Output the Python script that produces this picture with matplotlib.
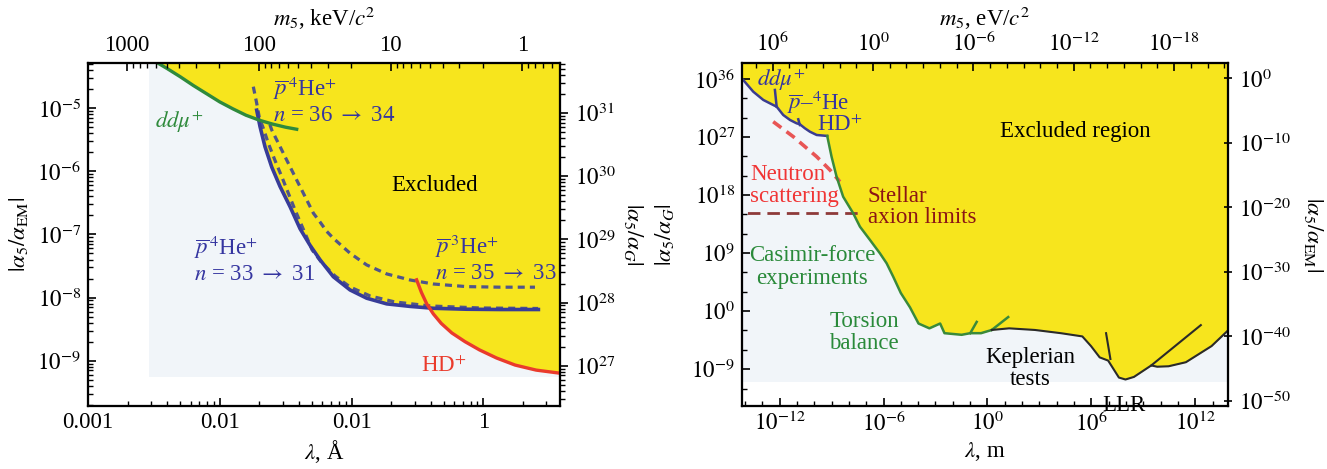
import numpy as np
import matplotlib
matplotlib.use("Agg")
import matplotlib.pyplot as plt
from matplotlib.ticker import FixedLocator, FixedFormatter, NullFormatter, LogLocator

plt.rcParams['font.family'] = ['Liberation Serif', 'DejaVu Serif']
plt.rcParams['mathtext.fontset'] = 'stix'

# ---------------- Left panel data: lambda [Angstrom], |alpha5/alphaEM| ----------------
ddmu_lambda_A = [3.24e-3, 3.98e-3, 5.01e-3, 6.31e-3, 7.94e-3, 1.00e-2, 1.26e-2, 1.58e-2,
                 2.00e-2, 2.51e-2, 3.16e-2, 3.83e-2]
ddmu_alpha = [5.50e-5, 4.27e-5, 3.16e-5, 2.29e-5, 1.70e-5, 1.26e-5, 9.77e-6, 7.76e-6,
              6.46e-6, 5.62e-6, 5.01e-6, 4.65e-6]

pHe4_33_lambda_A = [0.01905, 0.02018, 0.02203, 0.02477, 0.02864, 0.03412, 0.04064, 0.04831,
                    0.05754, 0.07261, 0.09727, 0.1300, 0.1845, 0.2773, 0.4169, 0.7464, 1.337, 2.612]
pHe4_33_alpha = [9.33e-6, 5.13e-6, 2.45e-6, 1.17e-6, 5.75e-7, 2.75e-7, 1.23e-7, 6.76e-8,
                 3.98e-8, 2.14e-8, 1.32e-8, 9.77e-9, 7.94e-9, 7.24e-9, 6.76e-9, 6.53e-9, 6.46e-9, 6.46e-9]

pHe4_36_lambda_A = [0.01795, 0.01905, 0.01995, 0.02138, 0.02333, 0.02612, 0.02951, 0.03311,
                    0.03724, 0.04436, 0.05012, 0.05957, 0.07482, 0.09727, 0.1380, 0.2133,
                    0.3936, 0.9419, 2.600]
pHe4_36_alpha = [2.20e-5, 1.20e-5, 7.08e-6, 4.82e-6, 2.79e-6, 1.52e-6, 8.24e-7, 4.50e-7,
                 2.44e-7, 1.04e-7, 5.69e-8, 3.54e-8, 2.20e-8, 1.47e-8, 1.06e-8, 8.51e-9,
                 7.36e-9, 6.84e-9, 6.71e-9]

pHe3_35_lambda_A = [0.02399, 0.02477, 0.02864, 0.03311, 0.03828, 0.04436, 0.05129, 0.05754,
                    0.06471, 0.07261, 0.09727, 0.1300, 0.1845, 0.2773, 0.4169, 0.7464, 1.337, 2.460]
pHe3_35_alpha = [5.50e-6, 4.53e-6, 2.47e-6, 1.34e-6, 7.31e-7, 3.97e-7, 2.17e-7, 1.58e-7,
                 1.12e-7, 8.71e-8, 5.04e-8, 3.29e-8, 2.37e-8, 1.90e-8, 1.64e-8, 1.49e-8, 1.46e-8, 1.46e-8]

HD_lambda_A = [0.3112, 0.3388, 0.3715, 0.4169, 0.4786, 0.5754, 0.7244, 0.9333, 1.259, 1.738, 2.512, 3.837]
HD_alpha = [1.91e-8, 1.20e-8, 7.94e-9, 5.50e-9, 3.89e-9, 2.75e-9, 2.00e-9, 1.48e-9, 1.10e-9,
            8.51e-10, 7.08e-10, 6.31e-10]

left_light_lambda_min = 2.90e-3
left_light_alpha_min = 5.45e-10

left_bottom_ticks = [1e-3, 1e-2, 1e-1, 1e0]
left_bottom_labels = ['0.001', '0.01', '0.01', '1']
left_top_ticks = [1000, 100, 10, 1]
left_top_labels = ['1000', '100', '10', '1']
left_left_ticks = [1e-9, 1e-8, 1e-7, 1e-6, 1e-5]
left_left_labels = [r'$10^{-9}$', r'$10^{-8}$', r'$10^{-7}$', r'$10^{-6}$', r'$10^{-5}$']
left_right_ticks = [1e27, 1e28, 1e29, 1e30, 1e31]
left_right_labels = [r'$10^{27}$', r'$10^{28}$', r'$10^{29}$', r'$10^{30}$', r'$10^{31}$']

# ---------------- Right panel data: lambda [m], |alpha5/alphaG| ----------------
bound_blue_lambda = [6.31e-15, 3.02e-14, 1.15e-13, 4.27e-13, 6.76e-13, 1.62e-12, 3.98e-12,
                     9.55e-12, 1.48e-11, 2.88e-11, 5.62e-11, 1.38e-10, 5.62e-10]
bound_blue_alpha = [1.41e36, 1.05e34, 5.50e32, 9.12e31, 5.01e31, 2.57e30, 4.37e29,
                    1.32e29, 9.33e28, 2.24e28, 6.61e27, 2.04e27, 1.45e27]
bound_green_lambda = [5.62e-10, 1.00e-9, 1.95e-9, 4.68e-9, 1.78e-8, 4.37e-8, 1.66e-7, 6.17e-7,
                      1.51e-6, 3.63e-6, 1.00e-5, 3.39e-5, 1.05e-4, 4.47e-4, 1.86e-3, 3.31e-3,
                      3.24e-2, 0.102, 0.427, 1.78]
bound_green_alpha = [1.45e27, 8.91e23, 6.92e20, 5.50e17, 1.48e15, 1.23e13, 1.07e11, 9.33e8,
                     2.63e7, 2.19e5, 6.31e2, 3.80, 1.20e-2, 2.14e-3, 1.20e-2, 3.80e-4,
                     2.14e-4, 3.80e-4, 3.80e-4, 1.20e-3]
bound_black_lambda = [1.78, 17.8, 550, 1.74e4, 3.02e5, 9.55e5, 3.02e6, 9.33e6, 3.89e7, 9.33e7,
                      2.88e8, 2.88e9, 6.31e9, 2.88e10, 2.88e11, 8.71e12, 2.04e14]
bound_black_alpha = [1.20e-3, 2.14e-3, 1.20e-3, 3.80e-4, 1.20e-4, 3.80e-6, 6.76e-8, 2.14e-8,
                     5.01e-11, 2.51e-11, 6.31e-11, 3.80e-9, 2.40e-9, 2.82e-9, 1.20e-8, 3.80e-6, 1.20e-2]

spike_ddmu_lambda = [5.37e-13, 6.76e-13]
spike_ddmu_alpha = [1.95e34, 5.01e31]
spike_pHe_lambda = [1.20e-11, 1.48e-11]
spike_pHe_alpha = [5.50e29, 7.24e28]
spike_tors1_lambda = [0.102, 0.240]
spike_tors1_alpha = [3.80e-4, 2.14e-2]
spike_tors2_lambda = [1.78, 15.8]
spike_tors2_alpha = [1.20e-3, 0.120]
spike_llr_lambda = [7.08e6, 1.26e7]
spike_llr_alpha = [3.80e-4, 3.80e-8]
spike_plan_lambda = [2.88e9, 2.09e12]
spike_plan_alpha = [3.80e-9, 6.76e-3]

neutron_lambda = [4.27e-13, 6.17e-12, 1.38e-10, 8.13e-10, 3.02e-9]
neutron_alpha = [2.34e29, 1.12e27, 8.91e23, 7.59e21, 1.17e20]
stellar_lambda = [1e-15, 3.39e-8]
stellar_alpha = [1.82e15, 1.82e15]

right_light_alpha_min = 1.0e-11

right_bottom_ticks = [1e-12, 1e-6, 1e0, 1e6, 1e12]
right_bottom_labels = [r'$10^{-12}$', r'$10^{-6}$', r'$10^{0}$', r'$10^{6}$', r'$10^{12}$']
right_top_ticks = [1e6, 1e0, 1e-6, 1e-12, 1e-18]
right_top_labels = [r'$10^{6}$', r'$10^{0}$', r'$10^{-6}$', r'$10^{-12}$', r'$10^{-18}$']
right_left_ticks = [1e-9, 1e0, 1e9, 1e18, 1e27, 1e36]
right_left_labels = [r'$10^{-9}$', r'$10^{0}$', r'$10^{9}$', r'$10^{18}$', r'$10^{27}$', r'$10^{36}$']
right_right_ticks = [1e-50, 1e-40, 1e-30, 1e-20, 1e-10, 1e0]
right_right_labels = [r'$10^{-50}$', r'$10^{-40}$', r'$10^{-30}$', r'$10^{-20}$', r'$10^{-10}$', r'$10^{0}$']

# ---------------- constants / styling ----------------
HBARC_KEV_A = 1.973          # keV * Angstrom
EM_TO_G = 1.2e36             # alphaEM / alphaG
YELLOW = '#f7e51d'
LIGHT = '#f1f5f9'
BLUE = '#383c98'
GREEN = '#2f8a3c'
RED = '#ea3b2c'
DASH = '#50558a'
TXT_BLUE = '#3535a0'
TXT_GREEN = '#2a8a3a'
FS_TICK = 16.5
FS_TXT = 16.5

fig = plt.figure(figsize=(13.27, 4.69), dpi=100)


def style_ticks(ax, axis, direction, pad=5):
    ax.tick_params(axis=axis, which='major', direction=direction, length=6, width=1.2,
                   labelsize=FS_TICK, pad=pad)
    ax.tick_params(axis=axis, which='minor', direction=direction, length=3.5, width=1.0)


# =============================== LEFT PANEL ===============================
axL = fig.add_axes([0.06632, 0.13433, 0.35569, 0.73134])
axL.set_xscale('log')
axL.set_yscale('log')
xlimL = (1e-3, 3.81)
ylimL = (1.91e-10, 5.22e-5)
axL.set_xlim(xlimL)
axL.set_ylim(ylimL)

axL.fill_between([left_light_lambda_min, 10], left_light_alpha_min, 1,
                 color=LIGHT, lw=0, zorder=0)

grid = np.logspace(np.log10(xlimL[0]), np.log10(xlimL[1]), 4000)


def logi(xg, xs, ys):
    return np.interp(np.log10(xg), np.log10(xs), np.log10(ys), left=np.nan, right=np.nan)


curves = [(ddmu_lambda_A, ddmu_alpha), (pHe4_33_lambda_A, pHe4_33_alpha), (HD_lambda_A, HD_alpha)]
stack = np.vstack([logi(grid, x, y) for x, y in curves])
valid = ~np.all(np.isnan(stack), axis=0)
env = np.full(grid.shape, np.nan)
env[valid] = np.nanmin(stack[:, valid], axis=0)
axL.fill_between(grid[valid], 10 ** env[valid], 1, color=YELLOW, lw=0, zorder=1)

axL.plot(pHe3_35_lambda_A, pHe3_35_alpha, color=DASH, lw=2.3, ls=(0, (2.2, 1.6)), zorder=3)
axL.plot(pHe4_36_lambda_A, pHe4_36_alpha, color=DASH, lw=2.3, ls=(0, (2.2, 1.6)), zorder=3)
axL.plot(pHe4_33_lambda_A, pHe4_33_alpha, color=BLUE, lw=2.6, zorder=4)
axL.plot(ddmu_lambda_A, ddmu_alpha, color=GREEN, lw=2.4, zorder=5)
axL.plot(HD_lambda_A, HD_alpha, color=RED, lw=2.4, zorder=5)

axL.tick_params(which='both', top=False, right=False)
style_ticks(axL, 'y', 'in')
style_ticks(axL, 'x', 'in', pad=4)
axL.xaxis.set_major_locator(FixedLocator(left_bottom_ticks))
axL.xaxis.set_major_formatter(FixedFormatter(left_bottom_labels))
axL.xaxis.set_minor_locator(LogLocator(base=10, subs=np.arange(2, 10), numticks=50))
axL.xaxis.set_minor_formatter(NullFormatter())
axL.yaxis.set_major_locator(FixedLocator(left_left_ticks))
axL.yaxis.set_major_formatter(FixedFormatter(left_left_labels))
axL.yaxis.set_minor_locator(LogLocator(base=10, subs=np.arange(2, 10), numticks=50))
axL.yaxis.set_minor_formatter(NullFormatter())
axL.set_xlabel(r'$\lambda$, Å', fontsize=FS_TICK)
axL.xaxis.set_label_coords(0.5, -0.092)
axL.set_ylabel(r'$|\alpha_5/\alpha_{\rm EM}|$', fontsize=FS_TICK)
axL.yaxis.set_label_coords(-0.122, 0.5)

axLt = axL.twiny()
axLt.set_xscale('log')
axLt.set_xlim(HBARC_KEV_A / xlimL[0], HBARC_KEV_A / xlimL[1])
axLt.xaxis.set_major_locator(FixedLocator(left_top_ticks))
axLt.xaxis.set_major_formatter(FixedFormatter(left_top_labels))
axLt.xaxis.set_minor_locator(LogLocator(base=10, subs=np.arange(2, 10), numticks=50))
axLt.xaxis.set_minor_formatter(NullFormatter())
style_ticks(axLt, 'x', 'in')
axLt.set_xlabel(r'$m_5$, keV/$c^2$', fontsize=FS_TICK)
axLt.xaxis.set_label_coords(0.5, 1.108)

axLr = axL.twinx()
axLr.set_yscale('log')
axLr.set_ylim(ylimL[0] * EM_TO_G, ylimL[1] * EM_TO_G)
axLr.yaxis.set_major_locator(FixedLocator(left_right_ticks))
axLr.yaxis.set_major_formatter(FixedFormatter(left_right_labels))
axLr.yaxis.set_minor_locator(LogLocator(base=10, subs=np.arange(2, 10), numticks=50))
axLr.yaxis.set_minor_formatter(NullFormatter())
style_ticks(axLr, 'y', 'out')
axLr.set_ylabel(r'$|\alpha_5/\alpha_G|$', fontsize=FS_TICK, rotation=270, va='center')
axLr.yaxis.set_label_coords(1.155, 0.5)

for a in (axL, axLt, axLr):
    for s in a.spines.values():
        s.set_linewidth(1.5)

tL = axL.transAxes
axL.text(0.193, 0.828, r'$dd\mu^{+}$', color=GREEN, fontsize=FS_TXT, ha='center', va='center', transform=tL, zorder=6)
axL.text(0.392, 0.892, r'$\overline{p}^{\,4}$He$^{+}$' + '\n' + r'$n$ = 36 $\rightarrow$ 34', color=TXT_BLUE,
         fontsize=FS_TXT, ha='left', va='center', linespacing=1.2, transform=tL, zorder=6)
axL.text(0.735, 0.644, 'Excluded', color='black', fontsize=FS_TXT, ha='center', va='center', transform=tL, zorder=6)
axL.text(0.2246, 0.4286, r'$\overline{p}^{\,4}$He$^{+}$' + '\n' + r'$n$ = 33 $\rightarrow$ 31', color=TXT_BLUE,
         fontsize=FS_TXT, ha='left', va='center', linespacing=1.2, transform=tL, zorder=6)
axL.text(0.735, 0.431, r'$\overline{p}^{\,3}$He$^{+}$' + '\n' + r'$n$ = 35 $\rightarrow$ 33', color=TXT_BLUE,
         fontsize=FS_TXT, ha='left', va='center', linespacing=1.2, transform=tL, zorder=6)
axL.text(0.754, 0.114, r'HD$^{+}$', color=RED, fontsize=FS_TXT, ha='center', va='center', transform=tL, zorder=6)

# =============================== RIGHT PANEL ===============================
axR = fig.add_axes([0.55916, 0.13433, 0.36624, 0.73134])
axR.set_xscale('log')
axR.set_yscale('log')
xlimR = (6.76e-15, 7.76e13)
ylimR = (1.95e-15, 2.95e38)
axR.set_xlim(xlimR)
axR.set_ylim(ylimR)

axR.fill_between([1e-16, 1e16], right_light_alpha_min, 1e40, color=LIGHT, lw=0, zorder=0)
bx = bound_blue_lambda + bound_green_lambda[1:] + bound_black_lambda[1:]
by = bound_blue_alpha + bound_green_alpha[1:] + bound_black_alpha[1:]
axR.fill_between(bx, by, 1e40, color=YELLOW, lw=0, zorder=1)

RB = '#3b3d90'
RG = '#3a8a3a'
RK = '#2a2a2a'
axR.plot(bound_blue_lambda, bound_blue_alpha, color=RB, lw=1.8, zorder=4)
axR.plot(spike_ddmu_lambda, spike_ddmu_alpha, color=RB, lw=1.8, zorder=4)
axR.plot(spike_pHe_lambda, spike_pHe_alpha, color=RB, lw=1.8, zorder=4)
axR.plot(bound_green_lambda, bound_green_alpha, color=RG, lw=1.8, zorder=4)
axR.plot(spike_tors1_lambda, spike_tors1_alpha, color=RG, lw=1.8, zorder=4)
axR.plot(spike_tors2_lambda, spike_tors2_alpha, color=RG, lw=1.8, zorder=4)
axR.plot(bound_black_lambda, bound_black_alpha, color=RK, lw=1.5, zorder=4)
axR.plot(spike_llr_lambda, spike_llr_alpha, color=RK, lw=1.5, zorder=4)
axR.plot(spike_plan_lambda, spike_plan_alpha, color=RK, lw=1.5, zorder=4)
axR.plot(neutron_lambda, neutron_alpha, color='#e85555', lw=2.6, ls=(0, (2.8, 1.8)), zorder=3)
axR.plot(stellar_lambda, stellar_alpha, color='#8e3a3a', lw=2.0, ls=(0, (4.5, 2.5)), zorder=3)

axR.tick_params(which='both', top=False, right=False)
style_ticks(axR, 'y', 'in')
style_ticks(axR, 'x', 'in', pad=4)
axR.xaxis.set_major_locator(FixedLocator(right_bottom_ticks))
axR.xaxis.set_major_formatter(FixedFormatter(right_bottom_labels))
axR.xaxis.set_minor_locator(LogLocator(base=10, subs=(1.0,), numticks=60))
axR.xaxis.set_minor_formatter(NullFormatter())
axR.yaxis.set_major_locator(FixedLocator(right_left_ticks))
axR.yaxis.set_major_formatter(FixedFormatter(right_left_labels))
axR.yaxis.set_minor_locator(FixedLocator([10.0 ** k for k in range(-15, 40, 3)]))
axR.yaxis.set_minor_formatter(NullFormatter())
axR.set_xlabel(r'$\lambda$, m', fontsize=FS_TICK)
axR.xaxis.set_label_coords(0.5, -0.098)
axR.set_ylabel(r'$|\alpha_5/\alpha_G|$', fontsize=FS_TICK)
axR.yaxis.set_label_coords(-0.135, 0.5)

axRt = axR.twiny()
axRt.set_xscale('log')
axRt.set_xlim(6.76e7, 6.03e-22)
axRt.xaxis.set_major_locator(FixedLocator(right_top_ticks))
axRt.xaxis.set_major_formatter(FixedFormatter(right_top_labels))
axRt.xaxis.set_minor_locator(LogLocator(base=10, subs=(1.0,), numticks=60))
axRt.xaxis.set_minor_formatter(NullFormatter())
style_ticks(axRt, 'x', 'in')
axRt.set_xlabel(r'$m_5$, eV/$c^2$', fontsize=FS_TICK)
axRt.xaxis.set_label_coords(0.5, 1.108)

axRr = axR.twinx()
axRr.set_yscale('log')
axRr.set_ylim(ylimR[0] / EM_TO_G, ylimR[1] / EM_TO_G)
axRr.yaxis.set_major_locator(FixedLocator(right_right_ticks))
axRr.yaxis.set_major_formatter(FixedFormatter(right_right_labels))
axRr.yaxis.set_minor_locator(FixedLocator([]))
style_ticks(axRr, 'y', 'inout')
axRr.set_ylabel(r'$|\alpha_5/\alpha_{\rm EM}|$', fontsize=FS_TICK, rotation=270, va='center')
axRr.yaxis.set_label_coords(1.175, 0.5)

for a in (axR, axRt, axRr):
    for s in a.spines.values():
        s.set_linewidth(1.5)

tR = axR.transAxes
axR.text(0.080, 0.950, r'$dd\mu^{+}$', color=TXT_BLUE, fontsize=FS_TXT, ha='center', va='center', transform=tR, zorder=6)
axR.text(0.156, 0.886, r'$\overline{p}$–$^{4}$He', color=TXT_BLUE, fontsize=FS_TXT, ha='center', va='center', transform=tR, zorder=6)
axR.text(0.2016, 0.819, r'HD$^{+}$', color=TXT_BLUE, fontsize=FS_TXT, ha='center', va='center', transform=tR, zorder=6)
axR.text(0.685, 0.799, 'Excluded region', color='black', fontsize=FS_TXT, ha='center', va='center', transform=tR, zorder=6)
axR.text(0.0165, 0.644, 'Neutron\nscattering', color='#f03535', fontsize=FS_TXT, ha='left', va='center',
         linespacing=1.05, transform=tR, zorder=6)
axR.text(0.259, 0.58, 'Stellar\naxion limits', color='#8b1515', fontsize=FS_TXT, ha='left', va='center',
         linespacing=1.05, transform=tR, zorder=6)
axR.text(0.144, 0.405, 'Casimir-force\nexperiments', color=TXT_GREEN, fontsize=FS_TXT, ha='center', va='center',
         linespacing=1.08, transform=tR, zorder=6)
axR.text(0.251, 0.215, 'Torsion\nbalance', color=TXT_GREEN, fontsize=FS_TXT, ha='center', va='center',
         linespacing=1.08, transform=tR, zorder=6)
axR.text(0.593, 0.11, 'Keplerian\ntests', color='black', fontsize=FS_TXT, ha='center', va='center',
         linespacing=1.05, transform=tR, zorder=6)
axR.text(0.786, 0.0, 'LLR', color='black', fontsize=FS_TXT, ha='center', va='center', transform=tR, zorder=6)

fig.savefig('out.png', dpi=100)
